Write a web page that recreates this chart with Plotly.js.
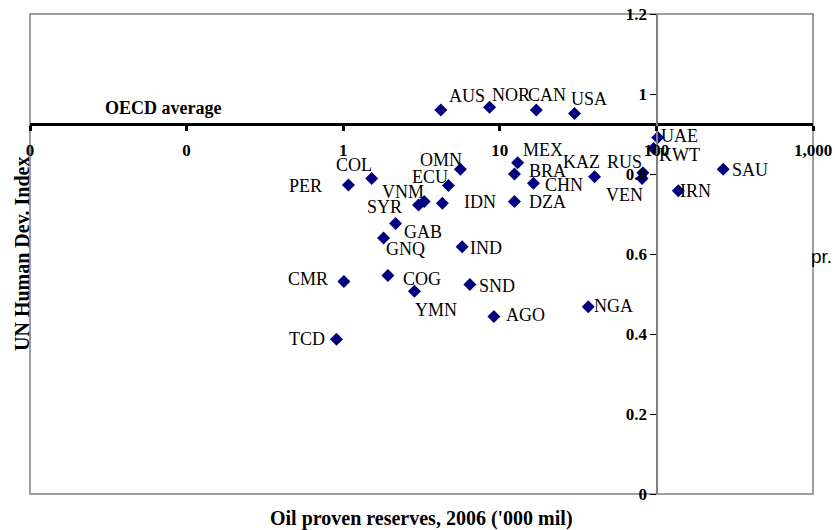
<!DOCTYPE html>
<html>
<head>
<meta charset="utf-8">
<script src="https://cdn.plot.ly/plotly-3.0.1.min.js"></script>
<style>html,body{margin:0;padding:0;background:#fff;}#chart{width:835px;height:530px;}</style>
</head>
<body>
<div id="chart"></div>
<script>
// ---- data ----
const countries = ["AUS","NOR","CAN","USA","UAE","KWT","SAU","IRN","RUS","VEN","KAZ","MEX","BRA","CHN","DZA","OMN","ECU","IDN","VNM","SYR","GAB","GNQ","IND","CMR","COG","YMN","SND","AGO","NGA","TCD","PER","COL"];
const reserves = [4.2, 8.6, 17.1, 30, 102, 96, 267, 138, 82, 81, 40.3, 13, 12.4, 16.4, 12.4, 5.6, 4.7, 4.3, 3.29, 3.03, 2.16, 1.81, 5.75, 1.01, 1.93, 2.85, 6.44, 9.17, 36.7, 0.906, 1.08, 1.52];
const hdi = [0.960, 0.967, 0.960, 0.951, 0.891, 0.864, 0.812, 0.758, 0.803, 0.789, 0.793, 0.828, 0.800, 0.777, 0.731, 0.812, 0.771, 0.727, 0.731, 0.7225, 0.676, 0.640, 0.618, 0.531, 0.546, 0.507, 0.524, 0.444, 0.468, 0.387, 0.7725, 0.789];
const oecdAverage = 0.925;
const xTickVals = [0.01, 0.1, 1, 10, 100, 1000];
const xTickText = ["0", "0", "1", "10", "100", "1,000"];
const yTickVals = [0, 0.2, 0.4, 0.6, 0.8, 1, 1.2];
const yTickText = ["0", "0.2", "0.4", "0.6", "0.8", "1", "1.2"];

// label placement (style only): anchor side, pixel offsets from the marker
const labelAnchor = ["left","left","left","left","left","left","left","left","right","right","right","left","left","left","left","right","right","left","right","right","left","left","left","right","left","left","left","left","left","right","right","right"];
const labelDx = [7, 1, -9, -5, 2, 4, 8, 1, 0, 2, 6, 4, 14, 11, 14, 3, 1, 21, 1, -16, 7, 1, 7, -15, 14, 0, 8, 11, 5, -10, -25, 1];
const labelDy = [-14, -12, -15, -15, -2, 7, 1, 0, -11, 17, -15, -13, -3, 2, 0, -9, -9, -1, -10, 2, 8, 11, 1, -3, 3, 19, 2, -1, -1, 0, 1, -13];

const serif = "Liberation Serif, Times New Roman, serif";
const yMax = 1.2;

const trace = {
  x: reserves, y: hdi, text: countries,
  type: "scatter", mode: "markers",
  marker: {symbol: "diamond", size: 10, color: "#000080"},
  hoverinfo: "x+y+text"
};

const pointLabels = countries.map((c, i) => ({
  text: c, xref: "x", yref: "y",
  x: Math.log10(reserves[i]), y: hdi[i],
  xanchor: labelAnchor[i], yanchor: "middle",
  xshift: labelDx[i], yshift: -labelDy[i],
  showarrow: false, borderpad: 0,
  font: {family: serif, size: 18, color: "#000"}
}));

const layout = {
  width: 835, height: 530,
  margin: {l: 30, r: 22, t: 14, b: 36},
  paper_bgcolor: "#fff", plot_bgcolor: "#fff",
  showlegend: false,
  xaxis: {
    type: "log", range: [-2, 3],
    tickmode: "array", tickvals: xTickVals, ticktext: xTickText,
    anchor: "free", position: oecdAverage / yMax,
    showline: true, linecolor: "#000", linewidth: 3,
    ticks: "outside", ticklen: 5, tickwidth: 3, tickcolor: "#000",
    ticklabelstandoff: 5,
    tickfont: {family: serif, size: 17, color: "#000", weight: "bold"},
    showgrid: false, zeroline: false
  },
  yaxis: {
    range: [0, yMax],
    tickmode: "array", tickvals: yTickVals, ticktext: yTickText,
    anchor: "free", position: 0.8,
    showline: true, linecolor: "#808080", linewidth: 1.5,
    ticks: "outside", ticklen: 6, tickwidth: 1, tickcolor: "#000",
    tickfont: {family: serif, size: 17, color: "#000", weight: "bold"},
    showgrid: false, zeroline: false
  },
  shapes: [
    {type: "rect", xref: "paper", yref: "paper", x0: 0, x1: 1, y0: 0, y1: 1,
     line: {color: "#808080", width: 1.5}, layer: "below"}
  ],
  annotations: pointLabels.concat([
    {text: "<b>OECD average</b>", xref: "paper", yref: "y", x: 0.17, y: oecdAverage,
     xanchor: "center", yanchor: "bottom", yshift: 4, showarrow: false,
     font: {family: serif, size: 18, color: "#000"}},
    {text: "<b>Oil proven reserves, 2006 ('000 mil)</b>", xref: "paper", yref: "paper", x: 0.5, y: 0,
     xanchor: "center", yanchor: "middle", yshift: -24, showarrow: false,
     font: {family: serif, size: 20, color: "#000"}},
    {text: "<b>UN Human Dev. Index</b>", xref: "paper", yref: "paper", x: 0, y: 0.5,
     xanchor: "center", yanchor: "middle", xshift: -8, textangle: -90, showarrow: false,
     font: {family: serif, size: 20, color: "#000"}},
    {text: "pr.", xref: "paper", yref: "paper", x: 1, y: 0.5, xanchor: "left", yanchor: "middle",
     xshift: -4, yshift: -2, showarrow: false, font: {family: "Liberation Sans, Arial, sans-serif", size: 19, color: "#000"}}
  ])
};

Plotly.newPlot("chart", [trace], layout, {displayModeBar: false, staticPlot: true});
</script>
</body>
</html>
